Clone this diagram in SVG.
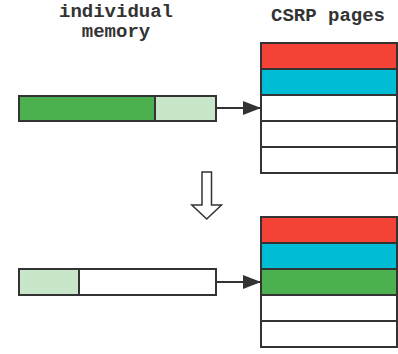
<svg xmlns="http://www.w3.org/2000/svg" width="398" height="354" viewBox="0 0 398 354">
<style>
.t{font-family:"Courier New","Liberation Mono",monospace;font-weight:bold;font-size:19px;fill:#333;text-anchor:middle}
.c{stroke:#333;stroke-width:2}
.r{fill:#F44336}.b{fill:#00BCD4}.g{fill:#4CAF50}.lg{fill:#C8E6C9}.w{fill:#fff}
</style>
<defs>
<marker id="ah" markerWidth="9" markerHeight="7" refX="9" refY="3.5" orient="auto" markerUnits="strokeWidth">
<path d="M0,0 L9,3.5 L0,7 Z" fill="#333"/>
</marker>
</defs>
<g id="labels">
<text class="t" x="116" y="17">individual</text>
<text class="t" x="116" y="37">memory</text>
<text class="t" x="328" y="21">CSRP pages</text>
</g>
<g id="mem-top">
<rect class="c g" x="19" y="96" width="136" height="25"/>
<rect class="c lg" x="155" y="96" width="61" height="25"/>
</g>
<g id="pages-top">
<rect class="c r" x="261" y="43" width="136" height="26"/>
<rect class="c b" x="261" y="69" width="136" height="26"/>
<rect class="c w" x="261" y="95" width="136" height="26"/>
<rect class="c w" x="261" y="121" width="136" height="26"/>
<rect class="c w" x="261" y="147" width="136" height="26"/>
</g>
<g id="mem-bottom">
<rect class="c lg" x="19" y="269" width="60" height="26"/>
<rect class="c w" x="79" y="269" width="137" height="26"/>
</g>
<g id="pages-bottom">
<rect class="c r" x="261" y="217" width="136" height="26"/>
<rect class="c b" x="261" y="243" width="136" height="26"/>
<rect class="c g" x="261" y="269" width="136" height="26"/>
<rect class="c w" x="261" y="295" width="136" height="26"/>
<rect class="c w" x="261" y="321" width="136" height="26"/>
</g>
<g id="connectors">
<line x1="216" y1="108" x2="261" y2="108" stroke="#333" stroke-width="2" marker-end="url(#ah)"/>
<line x1="216" y1="282" x2="261" y2="282" stroke="#333" stroke-width="2" marker-end="url(#ah)"/>
<path d="M202,172 L211.5,172 L211.5,205 L221.5,205 L206.7,219 L191.8,205 L202,205 Z" fill="#fff" stroke="#333" stroke-width="1.5"/>
</g>
</svg>
